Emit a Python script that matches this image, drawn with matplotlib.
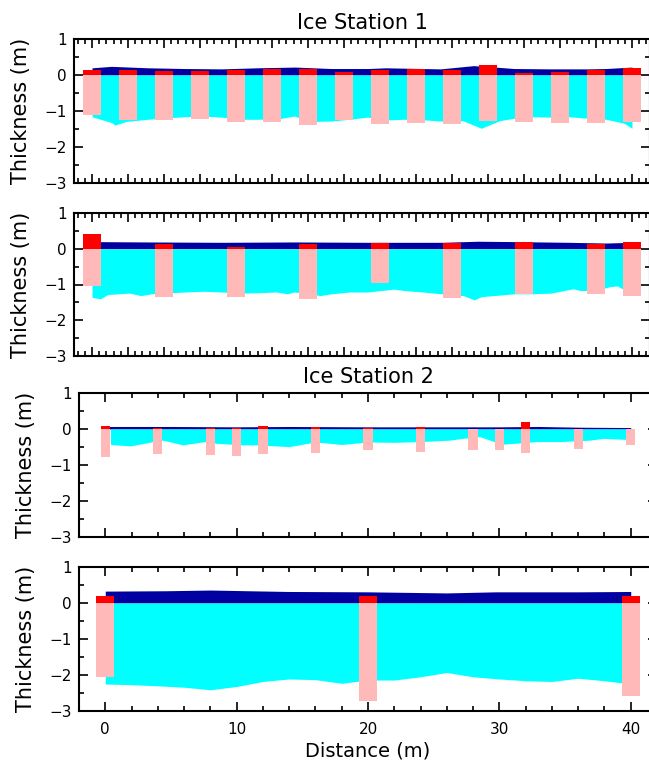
import matplotlib
matplotlib.use("Agg")
import matplotlib.pyplot as plt
from matplotlib.ticker import MultipleLocator

plt.rcParams['font.family'] = ['DejaVu Sans']

NAVY = '#0000a0'
CYAN = '#00ffff'
RED = '#ff0000'
PINK = '#ffb9b9'

# ---- Ice Station 1, upper transect ----
s1a_probe_x = [0, 2.5, 5, 7.5, 10, 12.5, 15, 17.5, 20, 22.5, 25, 27.5, 30, 32.5, 35, 37.5]
s1a_probe_top = [0.15, 0.14, 0.12, 0.11, 0.15, 0.17, 0.17, 0.07, 0.13, 0.17, 0.13, 0.27, 0.05, 0.08, 0.15, 0.20]
s1a_probe_bot = [-1.11, -1.25, -1.26, -1.21, -1.30, -1.30, -1.39, -1.24, -1.36, -1.34, -1.36, -1.28, -1.30, -1.32, -1.33, -1.30]
s1a_snow_x = [0, 1.35, 3.9, 6.4, 9.0, 11.5, 14.1, 16.6, 19.2, 20.4, 24.2, 26.5, 28.0, 29.3, 31.9, 34.4, 35.7, 37.5]
s1a_snow = [0.20, 0.24, 0.20, 0.18, 0.17, 0.20, 0.22, 0.18, 0.18, 0.20, 0.17, 0.26, 0.22, 0.18, 0.17, 0.17, 0.18, 0.22]
s1a_ice_x = [0, 1.35, 1.6, 2.37, 3.89, 5.16, 6.43, 7.7, 8.98, 10.25, 11.52, 13.05, 14.06, 15.08, 16.6, 17.88,
             19.15, 20.42, 21.69, 23.22, 24.24, 25.76, 27.03, 28.3, 29.32, 30.59, 31.86, 33.14, 34.4, 35.7, 36.96, 37.5]
s1a_ice = [-1.16, -1.32, -1.39, -1.29, -1.23, -1.19, -1.16, -1.14, -1.17, -1.23, -1.23, -1.21, -1.14, -1.29, -1.28, -1.23,
           -1.17, -1.25, -1.23, -1.25, -1.28, -1.27, -1.48, -1.27, -1.20, -1.16, -1.17, -1.16, -1.20, -1.23, -1.34, -1.48]

# ---- Ice Station 1, lower transect ----
s1b_probe_x = [0, 5, 10, 15, 20, 25, 30, 35, 37.5]
s1b_probe_top = [0.40, 0.14, 0.05, 0.12, 0.17, 0.16, 0.19, 0.12, 0.19]
s1b_probe_bot = [-1.05, -1.34, -1.34, -1.41, -0.96, -1.37, -1.26, -1.26, -1.31]
s1b_snow_x = [0, 3.9, 9.0, 14.0, 19.2, 24.3, 26.8, 29.3, 33.1, 35.7, 37.5]
s1b_snow = [0.20, 0.19, 0.18, 0.19, 0.18, 0.18, 0.21, 0.20, 0.18, 0.16, 0.18]
s1b_ice_x = [0, 0.59, 1.09, 2.62, 3.39, 4.15, 6.44, 7.71, 8.98, 10.77, 12.8, 13.56, 14.07, 15.86, 16.62, 17.89,
             19.16, 20.95, 21.71, 22.98, 24.25, 25.78, 26.54, 27.05, 29.34, 30.62, 31.89, 33.41, 33.92, 34.94,
             35.96, 36.47, 36.98, 37.5]
s1b_ice = [-1.36, -1.40, -1.28, -1.24, -1.31, -1.26, -1.21, -1.19, -1.21, -1.24, -1.21, -1.26, -1.21, -1.31, -1.26, -1.21,
           -1.21, -1.13, -1.17, -1.21, -1.26, -1.31, -1.43, -1.34, -1.26, -1.26, -1.24, -1.12, -1.17, -1.17,
           -1.06, -1.04, -1.15, -1.26]

# ---- Ice Station 2, upper transect ----
s2a_probe_x = [0, 4, 8, 10, 12, 16, 20, 24, 28, 30, 32, 36, 40]
s2a_probe_top = [0.08, 0.03, 0.03, 0.03, 0.07, 0.06, 0.02, 0.05, 0.0, 0.0, 0.19, 0.0, 0.0]
s2a_probe_bot = [-0.78, -0.70, -0.72, -0.75, -0.70, -0.68, -0.58, -0.63, -0.58, -0.58, -0.68, -0.56, -0.45]
s2a_snow_x = [0, 5, 10, 14, 20, 25, 30, 33, 36, 40]
s2a_snow = [0.07, 0.07, 0.06, 0.07, 0.06, 0.06, 0.06, 0.07, 0.05, 0.04]
s2a_ice_x = [0.4, 1.9, 3.65, 4.4, 5.9, 7.6, 8.5, 9.5, 10.4, 11.5, 14, 16, 18, 20, 22, 24,
             26.2, 27.2, 28.5, 30, 30.4, 32.8, 34.6, 36.9, 37.9, 39.7, 40]
s2a_ice = [-0.43, -0.47, -0.35, -0.31, -0.44, -0.35, -0.40, -0.42, -0.44, -0.44, -0.49, -0.36, -0.43, -0.36, -0.37, -0.35,
           -0.31, -0.26, -0.21, -0.40, -0.42, -0.35, -0.35, -0.31, -0.26, -0.29, -0.29]

# ---- Ice Station 2, lower transect ----
s2b_probe_x = [0, 20, 40]
s2b_probe_top = [0.19, 0.19, 0.19]
s2b_probe_bot = [-2.05, -2.71, -2.59]
s2b_snow_x = [0, 4.6, 8, 10.9, 14, 20, 26, 29.7, 36, 40]
s2b_snow = [0.33, 0.34, 0.36, 0.34, 0.32, 0.31, 0.28, 0.31, 0.31, 0.32]
s2b_ice_x = [0, 2, 4, 6, 8, 10, 12, 14, 16, 18, 20, 22, 24, 26, 28, 30, 32, 34, 36, 38, 40]
s2b_ice = [-2.25, -2.27, -2.30, -2.34, -2.41, -2.32, -2.18, -2.11, -2.13, -2.23, -2.14,
           -2.14, -2.05, -1.93, -2.05, -2.11, -2.16, -2.18, -2.09, -2.16, -2.25]


W, H = 649, 766
fig = plt.figure(figsize=(W / 100, H / 100), dpi=100)


def make_axes(left, right, top, bottom):
    return fig.add_axes([left / W, 1 - bottom / H, (right - left) / W, (bottom - top) / H])


def draw_panel(ax, snow_x, snow, ice_x, ice, px, ptop, pbot, width):
    ax.fill_between(snow_x, 0, snow, color=NAVY, lw=0)
    ax.fill_between(ice_x, ice, 0, color=CYAN, lw=0)
    ax.bar(px, pbot, width=width, color=PINK, lw=0)
    ax.bar(px, ptop, width=width, color=RED, lw=0)
    ax.set_ylim(-3, 1)
    ax.yaxis.set_major_locator(MultipleLocator(1))
    ax.yaxis.set_minor_locator(MultipleLocator(0.5))
    ax.tick_params(which='both', direction='in', top=True, right=True, width=1.2, labelsize=11)
    ax.tick_params(which='major', length=6.5, pad=5)
    ax.tick_params(which='minor', length=3.6)
    for sp in ax.spines.values():
        sp.set_linewidth(1.5)
    ax.set_ylabel('Thickness (m)', fontsize=15)
    ax.yaxis.set_label_coords(-0.075, 0.5)


ax1 = make_axes(74, 650, 39, 183)
draw_panel(ax1, s1a_snow_x, s1a_snow, s1a_ice_x, s1a_ice, s1a_probe_x, s1a_probe_top, s1a_probe_bot, 1.3)
ax2 = make_axes(74, 650, 213, 356)
draw_panel(ax2, s1b_snow_x, s1b_snow, s1b_ice_x, s1b_ice, s1b_probe_x, s1b_probe_top, s1b_probe_bot, 1.3)
for ax in (ax1, ax2):
    ax.set_xlim(-1.25, 38.75)
    ax.xaxis.set_major_locator(MultipleLocator(2.5))
    ax.xaxis.set_minor_locator(MultipleLocator(0.5))
    ax.tick_params(axis='x', labelbottom=False)
ax1.set_title('Ice Station 1', fontsize=15, pad=7)

ax3 = make_axes(79, 657, 393, 537)
draw_panel(ax3, s2a_snow_x, s2a_snow, s2a_ice_x, s2a_ice, s2a_probe_x, s2a_probe_top, s2a_probe_bot, 0.7)
ax4 = make_axes(79, 657, 567, 711)
draw_panel(ax4, s2b_snow_x, s2b_snow, s2b_ice_x, s2b_ice, s2b_probe_x, s2b_probe_top, s2b_probe_bot, 1.4)
for ax in (ax3, ax4):
    ax.set_xlim(-2, 42)
    ax.xaxis.set_major_locator(MultipleLocator(10))
    ax.xaxis.set_minor_locator(MultipleLocator(2))
ax3.tick_params(axis='x', labelbottom=False)
ax3.set_title('Ice Station 2', fontsize=15, pad=7)
ax4.tick_params(axis='x', pad=8)
ax4.set_xlabel('Distance (m)', fontsize=14, labelpad=3)

fig.savefig('out.png', dpi=100)
